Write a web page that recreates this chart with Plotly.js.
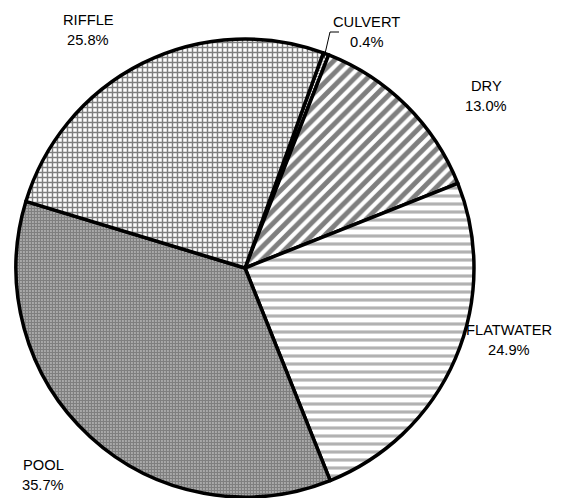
<!DOCTYPE html>
<html>
<head>
<meta charset="utf-8">
<script src="https://cdn.plot.ly/plotly-3.0.1.min.js"></script>
<style>
	html, body { margin: 0; padding: 0; background: #fff; }
	#pieChart { width: 587px; height: 498px; }
</style>
</head>
<body>
<div id="pieChart"></div>
<script>
const habitats = ['CULVERT', 'DRY', 'FLATWATER', 'POOL', 'RIFFLE']
const shares = [0.4, 13.0, 24.9, 35.7, 25.8]

const patternShapes = ['-', '/', '-', '.', '+']
const patternColors = ['#555555', '#000000', '#666666', '#000000', '#000000']
const patternSizes = [3, 9, 8, 3, 5]
const patternSolidity = [0.5, 0.55, 0.4, 0.8, 0.5]

// label centres in pixels (name line), percent goes 20px below
const labelPixels = [
	[366, 22],
	[486, 86],
	[509, 330],
	[43, 465],
	[88, 20],
]

const margin = { l: 16, r: 113, t: 39, b: 1 }
const W = 587
const H = 498
const plotW = W - margin.l - margin.r
const plotH = H - margin.t - margin.b

function px(x) {
	return (x - margin.l) / plotW
}
function py(y) {
	return 1 - (y - margin.t) / plotH
}

function createPieChart() {
	const trace = {
		type: 'pie',
		labels: habitats,
		values: shares,
		sort: false,
		direction: 'clockwise',
		rotation: 20,
		textinfo: 'none',
		hoverinfo: 'label+value',
		marker: {
			colors: ['#ffffff', '#ffffff', '#ffffff', '#ffffff', '#ffffff'],
			line: { color: '#000000', width: 3.5 },
			pattern: {
				shape: patternShapes,
				fgcolor: patternColors,
				bgcolor: '#ffffff',
				size: patternSizes,
				solidity: patternSolidity,
				fillmode: 'overlay',
			},
		},
		showlegend: false,
	}

	const font = {
		family: 'Liberation Sans, Arial, sans-serif',
		size: 14.7,
		color: '#000000',
	}

	const annotations = []
	habitats.forEach(function (name, i) {
		const pos = labelPixels[i]
		annotations.push({
			xref: 'paper',
			yref: 'paper',
			x: px(pos[0]),
			y: py(pos[1]),
			text: name,
			showarrow: false,
			xanchor: 'center',
			yanchor: 'middle',
			font: font,
		})
		annotations.push({
			xref: 'paper',
			yref: 'paper',
			x: px(pos[0]),
			y: py(pos[1] + 20),
			text: shares[i].toFixed(1) + '%',
			showarrow: false,
			xanchor: 'center',
			yanchor: 'middle',
			font: font,
		})
	})

	const layout = {
		width: W,
		height: H,
		paper_bgcolor: '#ffffff',
		margin: margin,
		showlegend: false,
		annotations: annotations,
		shapes: [
			{
				type: 'path',
				xref: 'paper',
				yref: 'paper',
				path:
					'M ' + px(339) + ' ' + py(32) +
					' L ' + px(330) + ' ' + py(32) +
					' L ' + px(324) + ' ' + py(58),
				line: { color: '#000000', width: 1 },
			},
		],
	}

	Plotly.newPlot('pieChart', [trace], layout, { displayModeBar: false })
}

window.onload = createPieChart
</script>
</body>
</html>
